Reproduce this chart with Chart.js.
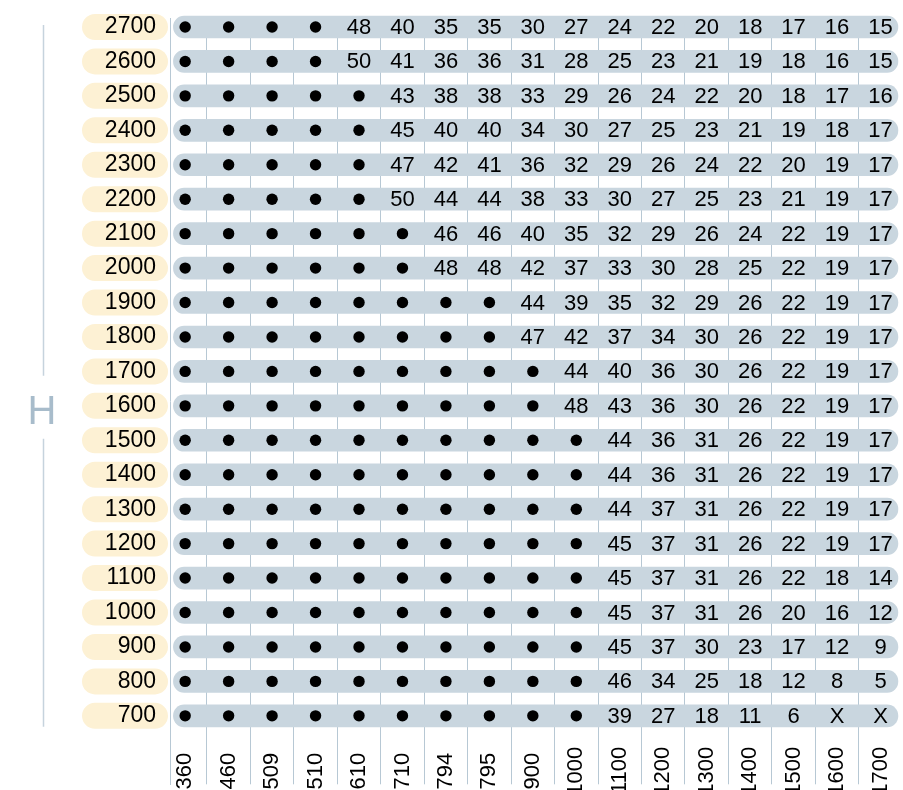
<!DOCTYPE html>
<html><head><meta charset="utf-8">
<script src="https://cdn.jsdelivr.net/npm/chart.js@4"></script>
<style>html,body{margin:0;padding:0;background:#fff;overflow:hidden}</style>
</head><body>
<canvas id="c" width="903" height="790" style="display:block;width:903px;height:790px"></canvas>
<script>
// Column categories (bottom axis)
const columns = ['360','460','509','510','610','710','794','795','900','1000','1100','1200','1300','1400','1500','1600','1700'];
// Row categories (H)
const heights = [2700,2600,2500,2400,2300,2200,2100,2000,1900,1800,1700,1600,1500,1400,1300,1200,1100,1000,900,800,700];
// Cell values per row: null = ● (dot), 'X' = X
const h2700 = [null,null,null,null,48,40,35,35,30,27,24,22,20,18,17,16,15];
const h2600 = [null,null,null,null,50,41,36,36,31,28,25,23,21,19,18,16,15];
const h2500 = [null,null,null,null,null,43,38,38,33,29,26,24,22,20,18,17,16];
const h2400 = [null,null,null,null,null,45,40,40,34,30,27,25,23,21,19,18,17];
const h2300 = [null,null,null,null,null,47,42,41,36,32,29,26,24,22,20,19,17];
const h2200 = [null,null,null,null,null,50,44,44,38,33,30,27,25,23,21,19,17];
const h2100 = [null,null,null,null,null,null,46,46,40,35,32,29,26,24,22,19,17];
const h2000 = [null,null,null,null,null,null,48,48,42,37,33,30,28,25,22,19,17];
const h1900 = [null,null,null,null,null,null,null,null,44,39,35,32,29,26,22,19,17];
const h1800 = [null,null,null,null,null,null,null,null,47,42,37,34,30,26,22,19,17];
const h1700 = [null,null,null,null,null,null,null,null,null,44,40,36,30,26,22,19,17];
const h1600 = [null,null,null,null,null,null,null,null,null,48,43,36,30,26,22,19,17];
const h1500 = [null,null,null,null,null,null,null,null,null,null,44,36,31,26,22,19,17];
const h1400 = [null,null,null,null,null,null,null,null,null,null,44,36,31,26,22,19,17];
const h1300 = [null,null,null,null,null,null,null,null,null,null,44,37,31,26,22,19,17];
const h1200 = [null,null,null,null,null,null,null,null,null,null,45,37,31,26,22,19,17];
const h1100 = [null,null,null,null,null,null,null,null,null,null,45,37,31,26,22,18,14];
const h1000 = [null,null,null,null,null,null,null,null,null,null,45,37,31,26,20,16,12];
const h900  = [null,null,null,null,null,null,null,null,null,null,45,37,30,23,17,12,9];
const h800  = [null,null,null,null,null,null,null,null,null,null,46,34,25,18,12,8,5];
const h700  = [null,null,null,null,null,null,null,null,null,null,39,27,18,11,6,'X','X'];
const rows = [h2700,h2600,h2500,h2400,h2300,h2200,h2100,h2000,h1900,h1800,h1700,h1600,h1500,h1400,h1300,h1200,h1100,h1000,h900,h800,h700];

const FONT = "'Liberation Sans', Arial, Helvetica, sans-serif";

// band (row background) data built from heights
const bandData = heights.map(h => ({x: [-0.27, 16.4], y: h}));
// dots built from null cells
const dotData = [];
rows.forEach((r, ri) => r.forEach((v, ci) => { if (v === null) dotData.push({x: ci, y: heights[ri]}); }));

const decor = {
  id: 'decor',
  beforeDraw(chart) {
    const ctx = chart.ctx, ys = chart.scales.y;
    ctx.save();
    // label pills
    ctx.fillStyle = '#fdf1d4';
    heights.forEach(h => {
      const y = ys.getPixelForValue(h);
      ctx.beginPath();
      ctx.roundRect(82, y - 13, 86, 26, 13);
      ctx.fill();
    });
    // H bracket
    const top = ys.getPixelForValue(2700) - 2, bot = ys.getPixelForValue(700) + 11;
    const mid = ys.getPixelForValue(1600) + 5;
    ctx.strokeStyle = '#c6d3dd';
    ctx.lineWidth = 1.5;
    ctx.beginPath();
    ctx.moveTo(43.5, top); ctx.lineTo(43.5, mid - 35);
    ctx.moveTo(43.5, mid + 28); ctx.lineTo(43.5, bot);
    ctx.stroke();
    ctx.fillStyle = '#a8bccb';
    ctx.font = '40px ' + FONT;
    ctx.textAlign = 'center';
    ctx.textBaseline = 'middle';
    ctx.fillText('H', 42, mid + 2);
    ctx.restore();
  },
  afterDatasetsDraw(chart) {
    const ctx = chart.ctx, xs = chart.scales.x, ys = chart.scales.y;
    ctx.save();
    ctx.fillStyle = '#000';
    ctx.font = '22px ' + FONT;
    ctx.textAlign = 'center';
    ctx.textBaseline = 'middle';
    rows.forEach((r, ri) => {
      const y = ys.getPixelForValue(heights[ri]);
      r.forEach((v, ci) => {
        if (v === null) return;
        ctx.fillText(String(v), xs.getPixelForValue(ci), y + 1);
      });
    });
    ctx.restore();
  }
};

new Chart(document.getElementById('c'), {
  type: 'bar',
  data: {
    datasets: [
      {
        type: 'bar',
        indexAxis: 'y',
        data: bandData,
        backgroundColor: '#c9d6df',
        borderWidth: 0,
        borderRadius: 11,
        borderSkipped: false,
        barThickness: 22,
        clip: false,
        order: 2
      },
      {
        type: 'scatter',
        data: dotData,
        pointStyle: 'circle',
        pointRadius: 5.7,
        pointBackgroundColor: '#000',
        pointBorderWidth: 0,
        order: 1
      }
    ]
  },
  options: {
    responsive: false,
    animation: false,
    events: [],
    layout: { padding: { top: 18, left: 0, right: 0, bottom: 0 } },
    plugins: { legend: { display: false }, tooltip: { enabled: false } },
    scales: {
      x: {
        type: 'linear',
        offset: false,
        min: -0.349,
        max: 16.386,
        position: { y: 616 },
        z: 1,
        afterBuildTicks: s => { s.ticks = columns.map((c, i) => ({ value: i })); },
        afterFit: s => { s.height = 0; s.paddingLeft = 0; s.paddingRight = 0; s.paddingTop = 0; s.paddingBottom = 0; },
        grid: { offset: true, color: '#b7c8d4', lineWidth: 1, drawTicks: false },
        border: { display: false },
        ticks: {
          autoSkip: false,
          minRotation: 90,
          maxRotation: 90,
          padding: 2,
          color: '#000',
          font: { family: FONT, size: 22 },
          // trailing space keeps short labels centred like the reference
          callback: v => columns[v].length < 4 ? columns[v] + ' ' : columns[v]
        }
      },
      y: {
        type: 'linear',
        offset: false,
        beginAtZero: false,
        min: 501.2,
        max: 2726.1,
        afterBuildTicks: s => { s.ticks = heights.map(h => ({ value: h })); },
        afterFit: s => { s.width = 170; s.paddingTop = 0; s.paddingBottom = 0; s.paddingLeft = 0; s.paddingRight = 0; },
        grid: { display: false, drawTicks: false },
        border: { display: true, color: '#b7c8d4', width: 1 },
        ticks: {
          autoSkip: false,
          padding: 14,
          color: '#000',
          font: { family: FONT, size: 23 },
          callback: v => String(v)
        }
      }
    }
  },
  plugins: [decor]
});
</script>
</body></html>
